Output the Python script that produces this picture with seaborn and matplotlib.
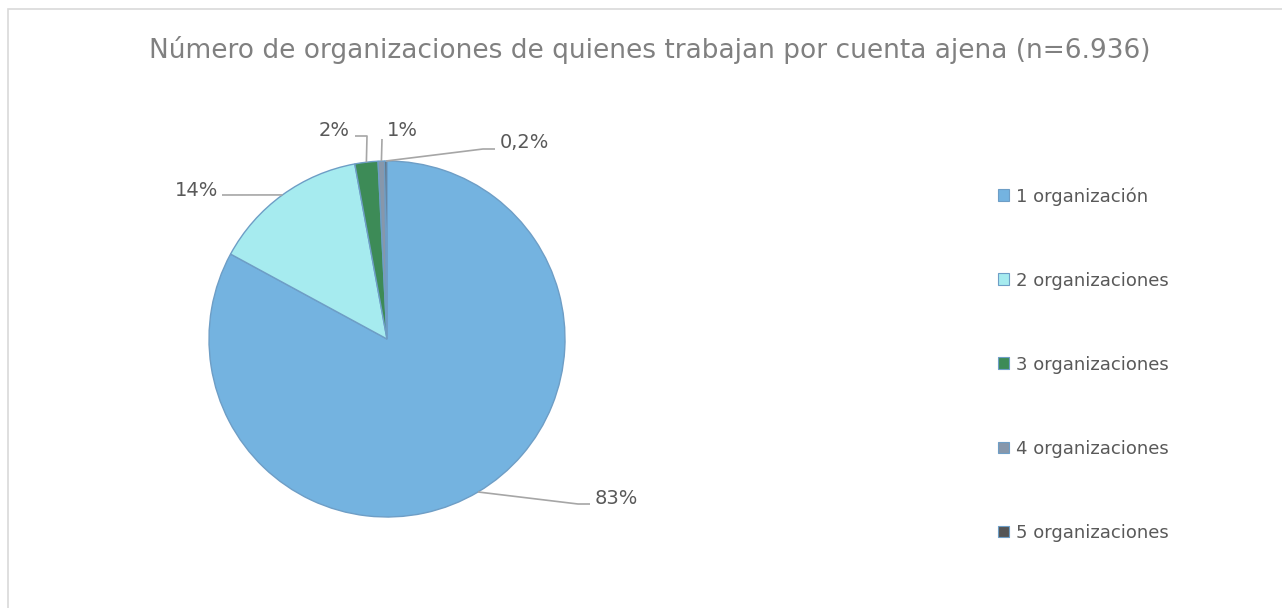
import numpy as np
import matplotlib
matplotlib.use("Agg")
import matplotlib.pyplot as plt
import seaborn as sns
from matplotlib.patches import Patch, Rectangle

categories = ["1 organización", "2 organizaciones", "3 organizaciones",
              "4 organizaciones", "5 organizaciones"]
values = [83.0, 14.2, 2.1, 0.6, 0.2]
title = "Número de organizaciones de quienes trabajan por cuenta ajena (n=6.936)"

colors = ["#74b3e0", "#a6ebef", "#3d8b57", "#8797ab", "#555555"]

sns.set_theme(style="white")
plt.rcParams["font.family"] = ["DejaVu Sans"]

W, H = 1282, 608
fig = plt.figure(figsize=(W / 100, H / 100), dpi=100)
ax = fig.add_axes([0, 0, 1, 1])

cx, cy, R = 387, 339, 178
wedges, _ = ax.pie(values, colors=colors, startangle=90, counterclock=False,
                   center=(cx, H - cy), radius=R,
                   wedgeprops=dict(edgecolor="#6e9ec6", linewidth=1.0))
ax.set_xlim(0, W)
ax.set_ylim(0, H)
ax.set_aspect("equal")
ax.axis("off")


def fmt(v):
    if v < 0.5:
        return ("%.1f%%" % v).replace(".", ",")
    return "%.0f%%" % v


# leader-line elbows and label anchors (pixel coords, y from top)
layout = [
    ([(578, 504), (590, 504)], (595, 498), "left"),
    ([(222, 195)], (218, 190), "right"),
    ([(367, 136), (355, 136)], (350, 131), "right"),
    ([(382, 139)], (387, 131), "left"),
    ([(483, 149), (495, 149)], (500, 143), "left"),
]
for w, v, (pts, (tx, ty), ha) in zip(wedges, values, layout):
    mid = np.deg2rad((w.theta1 + w.theta2) / 2)
    sx = cx + R * np.cos(mid)
    sy = (H - cy) + R * np.sin(mid)
    xs = [sx] + [p[0] for p in pts]
    ys = [sy] + [H - p[1] for p in pts]
    ax.plot(xs, ys, color="#a6a6a6", lw=1.2, solid_capstyle="butt")
    ax.text(tx, H - ty, fmt(v), ha=ha, va="center", fontsize=14, color="#595959")

fig.text(650 / W, 1 - 50 / H, title, ha="center", va="center",
         fontsize=19, color="#808080")

handles = [Patch(facecolor=c, edgecolor="#6e9ec6", linewidth=0.8) for c in colors]
leg = ax.legend(handles, categories, loc="upper left",
                bbox_to_anchor=(989 / W, 1 - 178 / H), frameon=False,
                fontsize=13, labelspacing=3.66, handlelength=0.62,
                handleheight=0.62, handletextpad=0.4, borderpad=0,
                labelcolor="#595959")

fig.patches.append(Rectangle((8 / W, -0.1), 1.2, 1 - 9 / H + 0.1,
                             transform=fig.transFigure, fill=False,
                             edgecolor="#d9d9d9", linewidth=1.2))

fig.savefig("out.png", dpi=100)
